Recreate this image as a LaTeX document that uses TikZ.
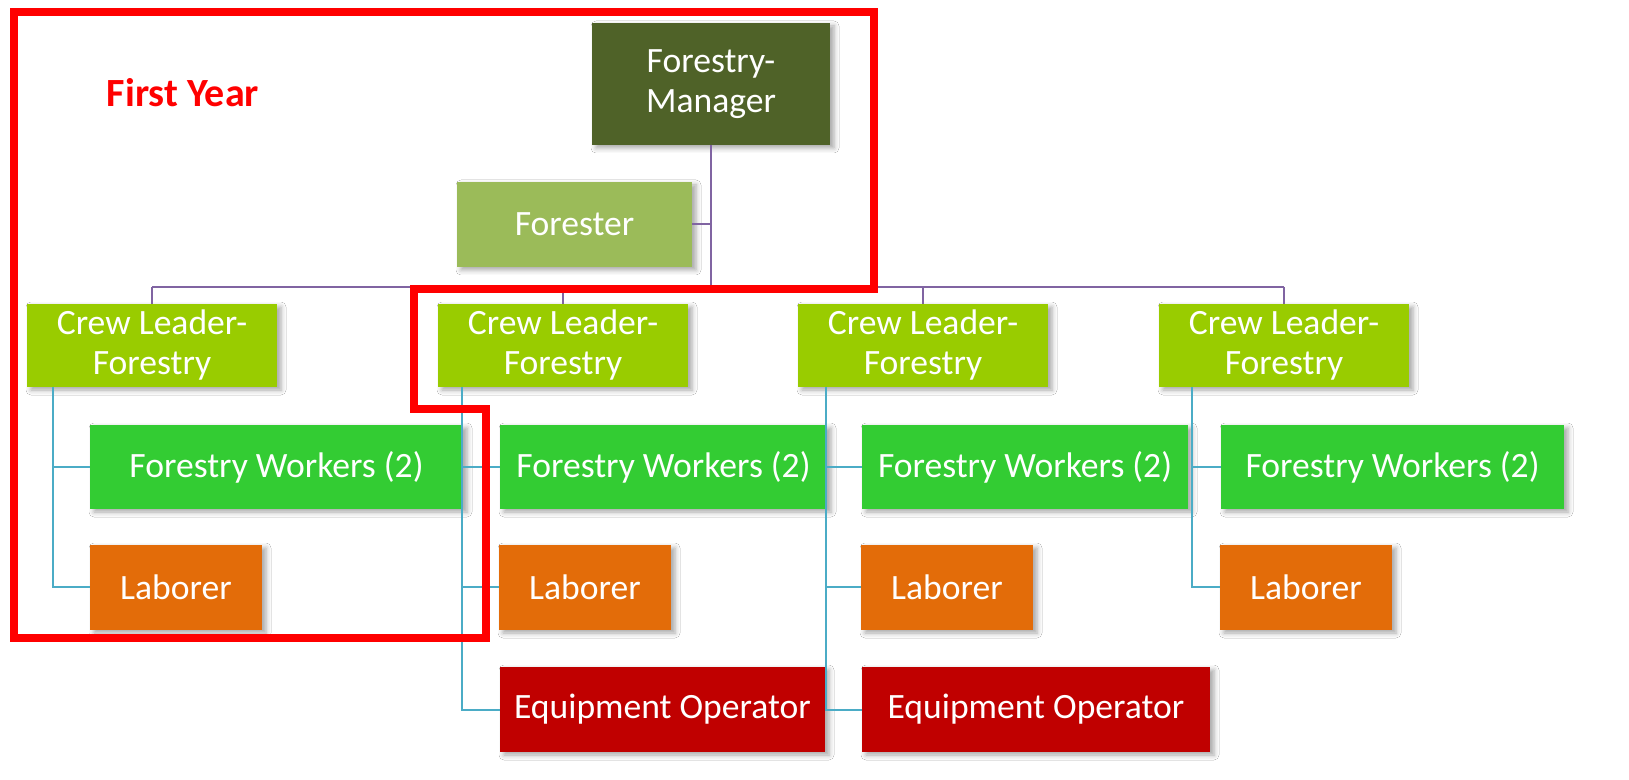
\documentclass[tikz,border=0pt]{standalone}
\usepackage{fontspec}
\setmainfont{Carlito}
\usetikzlibrary{shadows,shadows.blur}
\definecolor{mgrc}{HTML}{4F6228}
\definecolor{frsc}{HTML}{9BBB59}
\definecolor{clc}{HTML}{99CC00}
\definecolor{wkc}{HTML}{33CC33}
\definecolor{lbc}{HTML}{E36C09}
\definecolor{eqc}{HTML}{C00000}
\definecolor{purpc}{HTML}{8064A2}
\definecolor{bluc}{HTML}{4BACC6}
\definecolor{redc}{HTML}{FF0000}
\begin{document}
\begin{tikzpicture}[x=0.5pt,y=-0.5pt,
  orgbox/.style={draw=none, text=white, inner sep=0pt, align=center,
    font=\fontsize{17.8}{20}\selectfont,
    blur shadow={shadow xshift=2pt, shadow yshift=-1.5pt, shadow blur radius=2.5pt, shadow opacity=35}},
  purpline/.style={draw=purpc, line width=1pt},
  blueline/.style={draw=bluc, line width=1pt},
  redframe/.style={draw=redc, line width=4.3pt, miter limit=10},
  lbl/.style={text=redc, font=\fontsize{20}{24}\bfseries\selectfont}]
\useasboundingbox (0,0) rectangle (1629,780);
\fill[white] (0,0) rectangle (1629,780);

% top
\node[orgbox, fill=mgrc, minimum width=119pt, minimum height=61pt] (mgr) at (711,84) {Forestry-\\Manager};
\node[orgbox, fill=frsc, minimum width=117.5pt, minimum height=42.5pt] (frs) at (574.5,224.5) {Forester};

% crew leaders
\foreach \n/\x in {cl1/152, cl2/563, cl3/923, cl4/1284}{
  \node[orgbox, fill=clc, minimum width=125pt, minimum height=41.5pt] (\n) at (\x,345.5) {Crew Leader-\\Forestry};
}

% workers
\node[orgbox, fill=wkc, minimum width=186.5pt, minimum height=42pt] (w1) at (276.5,467) {Forestry Workers (2)};
\node[orgbox, fill=wkc, minimum width=163.5pt, minimum height=42pt] (w2) at (663.5,467) {Forestry Workers (2)};
\node[orgbox, fill=wkc, minimum width=163pt, minimum height=42pt] (w3) at (1025,467) {Forestry Workers (2)};
\node[orgbox, fill=wkc, minimum width=171.5pt, minimum height=42pt] (w4) at (1392.5,467) {Forestry Workers (2)};

% laborers
\foreach \n/\x in {l1/176, l2/585, l3/947, l4/1306}{
  \node[orgbox, fill=lbc, minimum width=86pt, minimum height=42.5pt] (\n) at (\x,587.5) {Laborer};
}

% equipment operators
\node[orgbox, fill=eqc, minimum width=162.5pt, minimum height=42.5pt] (e2) at (662.5,709.5) {Equipment Operator};
\node[orgbox, fill=eqc, minimum width=174pt, minimum height=42.5pt] (e3) at (1036,709.5) {Equipment Operator};

% purple connectors
\coordinate (bus) at (711,287);
\draw[purpline] (mgr.south) -- (mgr.south |- bus);
\draw[purpline] (frs.east) -- (frs.east -| mgr.south);
\draw[purpline] (cl1.north |- bus) -- (cl4.north |- bus);
\foreach \n in {cl1,cl2,cl3,cl4}{
  \draw[purpline] (\n.north |- bus) -- (\n.north);
}

% blue connectors
\coordinate (s1) at (53,387);
\coordinate (s2) at (462,387);
\coordinate (s3) at (826,387);
\coordinate (s4) at (1192,387);
\draw[blueline] (s1) |- (w1.west);
\draw[blueline] (s1) |- (l1.west);
\draw[blueline] (s2) |- (w2.west);
\draw[blueline] (s2) |- (l2.west);
\draw[blueline] (s2) |- (e2.west);
\draw[blueline] (s3) |- (w3.west);
\draw[blueline] (s3) |- (l3.west);
\draw[blueline] (s3) |- (e3.west);
\draw[blueline] (s4) |- (w4.west);
\draw[blueline] (s4) |- (l4.west);

% label
\node[lbl] (fy) at (183,93) {First Year};

% red frame
\draw[redframe] (14,12) -- (874,12) -- (874,289) -- (414,289) -- (414,409) -- (486,409) -- (486,638) -- (14,638) -- cycle;
\end{tikzpicture}
\end{document}
